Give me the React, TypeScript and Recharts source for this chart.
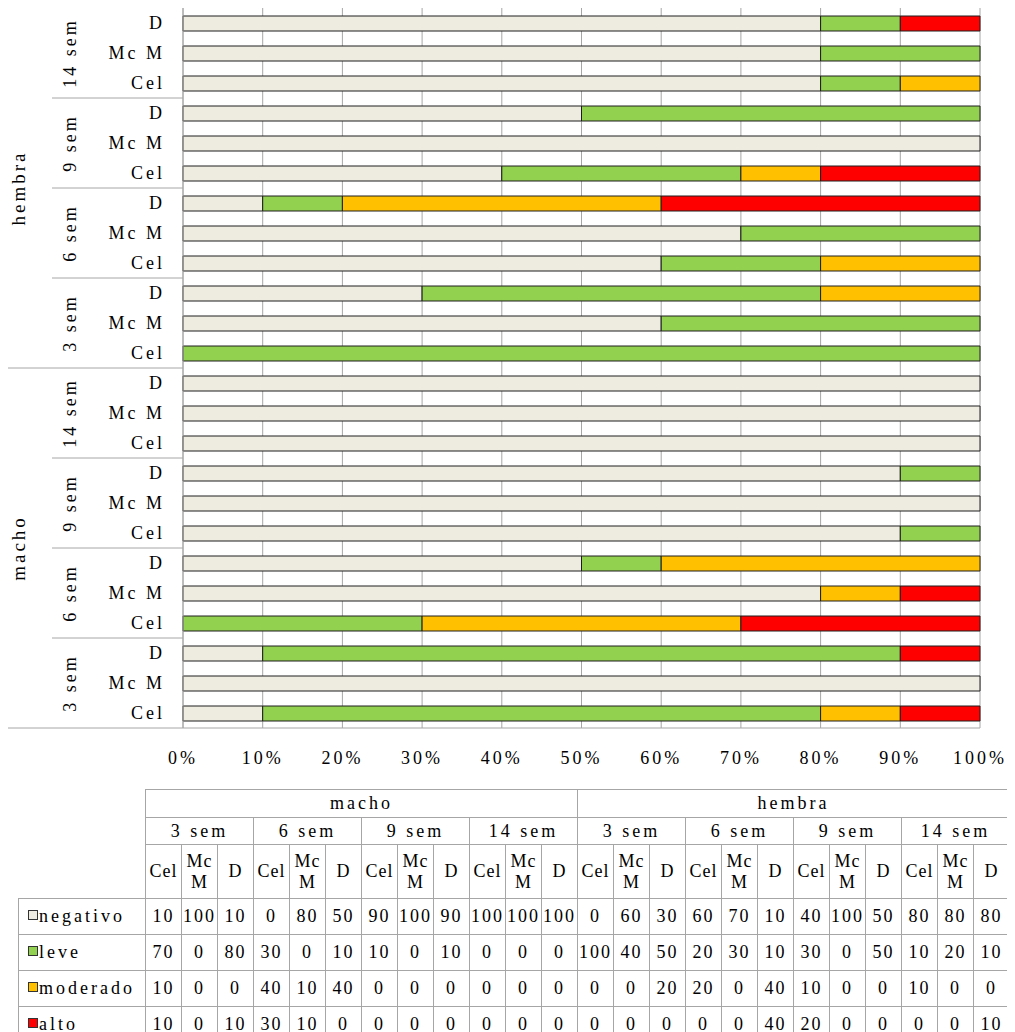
import { BarChart, Bar, XAxis, YAxis, CartesianGrid } from 'recharts'

// table order: macho 3/6/9/14 sem, then hembra 3/6/9/14 sem; each Cel, Mc M, D
const sexes = ['macho', 'hembra']
const weeks = ['3 sem', '6 sem', '9 sem', '14 sem']
const tissues = ['Cel', 'Mc M', 'D']

const negativo = [10, 100, 10, 0, 80, 50, 90, 100, 90, 100, 100, 100, 0, 60, 30, 60, 70, 10, 40, 100, 50, 80, 80, 80]
const leve = [70, 0, 80, 30, 0, 10, 10, 0, 10, 0, 0, 0, 100, 40, 50, 20, 30, 10, 30, 0, 50, 10, 20, 10]
const moderado = [10, 0, 0, 40, 10, 40, 0, 0, 0, 0, 0, 0, 0, 0, 20, 20, 0, 40, 10, 0, 0, 10, 0, 0]
const alto = [10, 0, 10, 30, 10, 0, 0, 0, 0, 0, 0, 0, 0, 0, 0, 0, 0, 40, 20, 0, 0, 0, 0, 10]

const xTicks = [0, 10, 20, 30, 40, 50, 60, 70, 80, 90, 100]

const series = [
  { key: 'negativo', values: negativo, color: '#EEECE1' },
  { key: 'leve', values: leve, color: '#92D050' },
  { key: 'moderado', values: moderado, color: '#FFC000' },
  { key: 'alto', values: alto, color: '#FF0000' },
]

const FONT = '"Liberation Serif", "Times New Roman", serif'
const GRID = '#a6a6a6'
const SPACING = 3

const columns = sexes.flatMap(s => weeks.flatMap(w => tissues.map(t => ({ sex: s, week: w, tissue: t }))))

// chart rows run top to bottom: hembra 14 sem D ... macho 3 sem Cel
const chartData = columns
  .map((c, i) => ({
    id: `${c.sex}-${c.week}-${c.tissue}`,
    ...c,
    negativo: negativo[i],
    leve: leve[i],
    moderado: moderado[i],
    alto: alto[i],
  }))
  .reverse()

function CategoryTick(props: any) {
  const { y, payload } = props
  const i = payload?.index ?? props.index
  const row = chartData[i]
  if (!row) return null
  const half = 15
  return (
    <g>
      <text
        x={157}
        y={y}
        textAnchor="end"
        dominantBaseline="central"
        fontSize={18}
        fontFamily={FONT}
        letterSpacing={SPACING}
        fill="#000"
      >
        {row.tissue}
      </text>
      {i % 3 === 1 && (
        <text
          x={62}
          y={y}
          transform={`rotate(-90 62 ${y})`}
          textAnchor="middle"
          dominantBaseline="central"
          fontSize={18}
          fontFamily={FONT}
          letterSpacing={SPACING}
          fill="#000"
        >
          {row.week}
        </text>
      )}
      {(i === 5 || i === 17) && (
        <text
          x={10}
          y={y + half}
          transform={`rotate(-90 10 ${y + half})`}
          textAnchor="middle"
          dominantBaseline="central"
          fontSize={19}
          fontFamily={FONT}
          letterSpacing={SPACING}
          fill="#000"
        >
          {row.sex}
        </text>
      )}
      {i % 3 === 2 && (
        <line
          x1={i === 11 || i === 23 ? 0 : 44}
          x2={175}
          y1={y + half}
          y2={y + half}
          stroke={GRID}
          strokeWidth={1}
        />
      )}
    </g>
  )
}

const cell: React.CSSProperties = {
  border: `1px solid ${GRID}`,
  padding: 0,
  textAlign: 'center',
  verticalAlign: 'middle',
  overflow: 'visible',
  whiteSpace: 'nowrap',
}

function DataTable() {
  return (
    <table
      style={{
        position: 'absolute',
        left: 10,
        top: 781,
        borderCollapse: 'collapse',
        tableLayout: 'fixed',
        width: 990,
        fontFamily: FONT,
        fontSize: 18,
        letterSpacing: 2,
        color: '#000',
      }}
    >
      <colgroup>
        <col style={{ width: 127 }} />
        {columns.map((c, i) => (
          <col key={i} style={{ width: 36 }} />
        ))}
      </colgroup>
      <tbody>
        <tr style={{ height: 28 }}>
          <td rowSpan={3} style={{ border: 'none', padding: 0 }} />
          {sexes.map(s => (
            <td key={s} colSpan={12} style={{ ...cell, letterSpacing: SPACING }}>{s}</td>
          ))}
        </tr>
        <tr style={{ height: 27 }}>
          {sexes.flatMap(s => weeks.map(w => (
            <td key={s + w} colSpan={3} style={{ ...cell, letterSpacing: SPACING }}>{w}</td>
          )))}
        </tr>
        <tr style={{ height: 54 }}>
          {columns.map((c, i) => (
            <td key={i} style={{ ...cell, whiteSpace: 'normal', lineHeight: '21px', letterSpacing: 1 }}>{c.tissue}</td>
          ))}
        </tr>
        {series.map(s => (
          <tr key={s.key} style={{ height: 36 }}>
            <td style={{ ...cell, textAlign: 'left', paddingLeft: 9, letterSpacing: SPACING }}>
              <span
                style={{
                  display: 'inline-block',
                  width: 8,
                  height: 8,
                  background: s.color,
                  border: '1px solid #333',
                  marginRight: 1,
                  verticalAlign: 2,
                }}
              />
              {s.key}
            </td>
            {s.values.map((v, i) => (
              <td key={i} style={cell}>{v}</td>
            ))}
          </tr>
        ))}
      </tbody>
    </table>
  )
}

export default function App() {
  return (
    <div style={{ position: 'relative', width: 1000, height: 1024 }}>
      <BarChart
        width={1000}
        height={780}
        data={chartData}
        layout="vertical"
        margin={{ top: 0, right: 28, bottom: 0, left: 0 }}
        barSize={15}
      >
        <CartesianGrid horizontal={false} vertical stroke={GRID} />
        <XAxis
          type="number"
          domain={[0, 100]}
          ticks={xTicks}
          tickFormatter={v => `${v}%`}
          axisLine={{ stroke: GRID }}
          tickLine={false}
          tickMargin={17}
          height={60}
          tick={{ fill: '#000', fontSize: 18, fontFamily: FONT, letterSpacing: SPACING }}
        />
        <YAxis
          type="category"
          dataKey="id"
          width={175}
          interval={0}
          axisLine={{ stroke: GRID }}
          tickLine={false}
          tick={<CategoryTick />}
        />
        {series.map(s => (
          <Bar
            key={s.key}
            dataKey={s.key}
            stackId="a"
            fill={s.color}
            stroke="#1e1e1e"
            strokeWidth={1}
            isAnimationActive={false}
          />
        ))}
      </BarChart>
      <DataTable />
    </div>
  )
}
